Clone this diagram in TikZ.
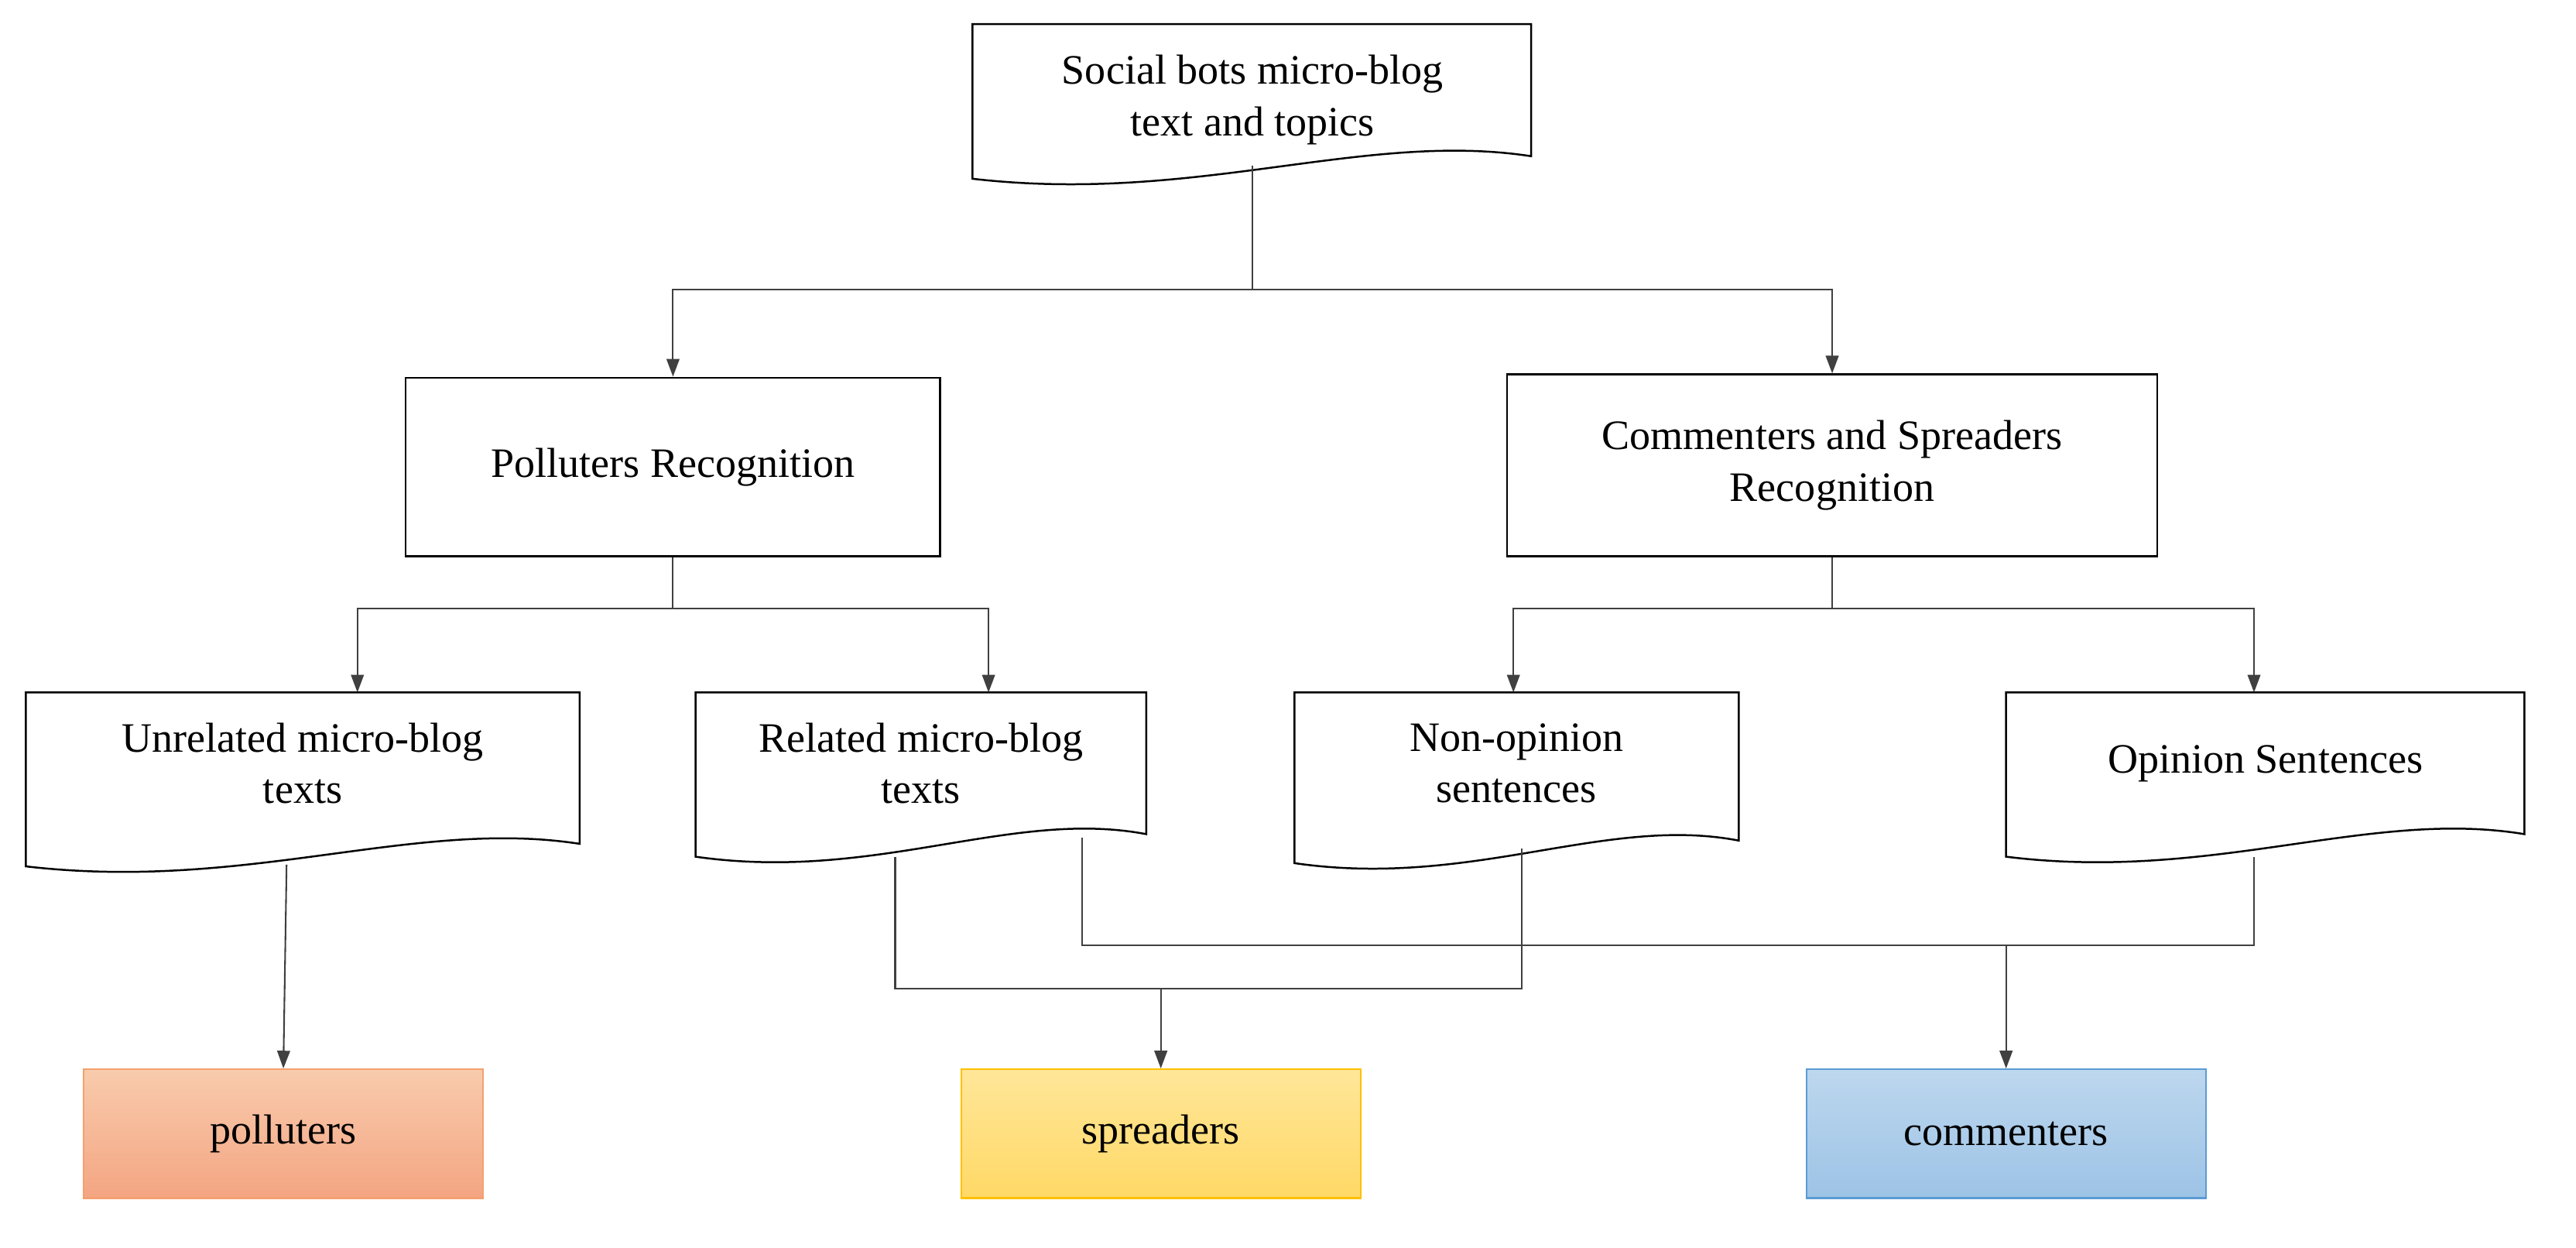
\documentclass[tikz,border=0pt]{standalone}
\usepackage{fontspec}
\setmainfont{Liberation Serif}
\usetikzlibrary{arrows.meta}
\definecolor{po1}{HTML}{F8CBAD}\definecolor{po2}{HTML}{F4A582}\definecolor{pob}{HTML}{F4A070}
\definecolor{sp1}{HTML}{FFE699}\definecolor{sp2}{HTML}{FFD966}\definecolor{spb}{HTML}{FFC000}
\definecolor{co1}{HTML}{BDD7EE}\definecolor{co2}{HTML}{9DC3E6}\definecolor{cob}{HTML}{5B9BD5}
\newcommand\docsh[4]{%
\pgfmathsetmacro\ww{#3-#1}%
\draw[shp] (#1,#2) -- (#3,#2) -- (#3,#4-8) .. controls ({#3-0.3*\ww},{#4-24}) and ({#1+0.4*\ww},{#4+22}) .. (#1,#4+6) -- cycle;}
\begin{document}
\begin{tikzpicture}[x=1pt,y=-1pt,
 shp/.style={line width=1.2pt,draw=black},
 txt/.style={align=center,font=\fontsize{26}{32}\selectfont},
 con/.style={line width=1pt,draw=black!75},
 arr/.style={con,-{Triangle[length=11pt,width=8pt]}},
 bot/.style={txt,minimum width=248pt,minimum height=80pt,line width=1pt}]
\useasboundingbox (0,0) rectangle (1600,775);
\docsh{604}{15}{951}{105}
\node[txt] (top) at (778,62) {Social bots micro-blog\\text and topics};
\node[shp,txt,minimum width=332pt,minimum height=111pt] (pol) at (418,290) {Polluters Recognition};
\node[shp,txt,minimum width=404pt,minimum height=113pt] (com) at (1138,289) {Commenters and Spreaders\\Recognition};
\docsh{16}{430}{360}{532}
\node[txt] (unr) at (188,474) {Unrelated micro-blog\\texts};
\docsh{432}{430}{712}{526}
\node[txt] (rel) at (572,474) {Related micro-blog\\texts};
\docsh{804}{430}{1080}{530}
\node[txt] (non) at (942,474) {Non-opinion\\sentences};
\docsh{1246}{430}{1568}{526}
\node[txt] (opi) at (1407,474) {Opinion Sentences};
\node[bot,draw=pob,top color=po1,bottom color=po2] (p) at (176,704) {polluters};
\node[bot,draw=spb,top color=sp1,bottom color=sp2] (s) at (721,704) {spreaders};
\node[bot,draw=cob,top color=co1,bottom color=co2] (c) at (1246,704) {commenters};
\coordinate (t1) at (778,103); \coordinate (j1) at (778,180);
\draw[con] (t1) -- (j1);
\draw[arr] (j1) -| (pol.north);
\draw[arr] (j1) -| (com.north);
\coordinate (j2) at (418,378);
\draw[con] (pol.south) -- (j2);
\draw[arr] (j2) -| (222,430);
\draw[arr] (j2) -| (614,430);
\coordinate (j3) at (1138,378);
\draw[con] (com.south) -- (j3);
\draw[arr] (j3) -| (940,430);
\draw[arr] (j3) -| (1400,430);
\draw[arr] (178,537) -- (p.north);
\coordinate (j4) at (721,614);
\draw[con] (556,532) |- (j4) -| (945,527);
\draw[arr] (j4) -- (s.north);
\coordinate (j5) at (1246,587);
\draw[con] (672,520) |- (j5) -| (1400,532);
\draw[arr] (j5) -- (c.north);
\end{tikzpicture}
\end{document}
